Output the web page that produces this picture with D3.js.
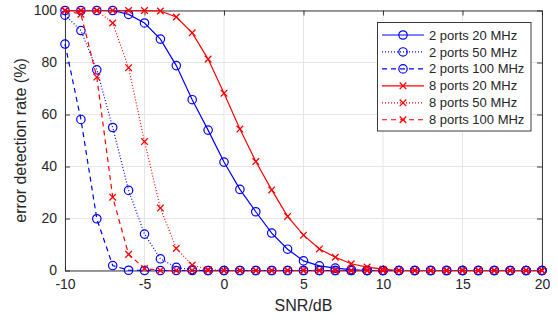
<!DOCTYPE html>
<html><head><meta charset="utf-8">
<script src="https://cdn.jsdelivr.net/npm/d3@7"></script>
<style>body{margin:0;background:#fff}svg{display:block}text{font-family:"Liberation Sans",Arial,Helvetica,sans-serif;fill:#262626}</style>
</head><body><svg id="c" width="558" height="322"></svg>
<script>
const snr = d3.range(-10, 21);
const p2_20 = [100,100,100,100,98.5,95.2,89,78.8,65.7,54,41.7,31.2,22.6,14.4,8.2,3.7,1.8,0.9,0.3,0,0,0,0,0,0,0,0,0,0,0,0];
const p2_50 = [98.2,92.3,77.2,55,30.8,14,4.5,1.2,0.3,0,0,0,0,0,0,0,0,0,0,0,0,0,0,0,0,0,0,0,0,0,0];
const p2_100 = [87.1,58.1,19.9,1.9,0.1,0,0,0,0,0,0,0,0,0,0,0,0,0,0,0,0,0,0,0,0,0,0,0,0,0,0];
const p8_20 = [100,100,100,100,100,100,99.8,97.5,91.4,81.3,68.2,54.4,41.9,31,20.8,13.6,8.3,5.1,2.6,1.3,0.5,0,0,0,0,0,0,0,0,0,0];
const p8_50 = [100,100,100,95.2,78,49.6,24,8.5,2.1,0.4,0,0,0,0,0,0,0,0,0,0,0,0,0,0,0,0,0,0,0,0,0];
const p8_100 = [100,98.6,74.4,28.2,6.2,0.8,0,0,0,0,0,0,0,0,0,0,0,0,0,0,0,0,0,0,0,0,0,0,0,0,0];
const seriesNames = ["2 ports 20 MHz","2 ports 50 MHz","2 ports 100 MHz","8 ports 20 MHz","8 ports 50 MHz","8 ports 100 MHz"];
const xTicks = [-10,-5,0,5,10,15,20];
const yTicks = [0,20,40,60,80,100];

const series = [
  {name:seriesNames[0], v:p2_20, color:"#0000ff", dash:null, marker:"o"},
  {name:seriesNames[1], v:p2_50, color:"#0000ff", dash:"1,2", marker:"o"},
  {name:seriesNames[2], v:p2_100, color:"#0000ff", dash:"5,4", marker:"o"},
  {name:seriesNames[3], v:p8_20, color:"#ff0000", dash:null, marker:"x"},
  {name:seriesNames[4], v:p8_50, color:"#ff0000", dash:"1,2", marker:"x"},
  {name:seriesNames[5], v:p8_100, color:"#ff0000", dash:"5,4", marker:"x"}
];

const L=65, R=542, T=10.5, B=270.5;
const svg = d3.select("#c");
const x = d3.scaleLinear().domain([-10,20]).range([L,R]);
const y = d3.scaleLinear().domain([0,100]).range([B,T]);

// grid
const g = svg.append("g");
g.selectAll(".gx").data(xTicks).join("line").attr("x1",d=>x(d)).attr("x2",d=>x(d)).attr("y1",T).attr("y2",B).attr("stroke","#e5e5e5").attr("stroke-width",1);
g.selectAll(".gy").data(yTicks).join("line").attr("y1",d=>y(d)).attr("y2",d=>y(d)).attr("x1",L).attr("x2",R).attr("stroke","#e5e5e5").attr("stroke-width",1);

// axes
const ax = d3.axisBottom(x).tickValues(xTicks).tickSizeInner(-5).tickSizeOuter(0).tickPadding(9).tickFormat(d=>d);
const ay = d3.axisLeft(y).tickValues(yTicks).tickSizeInner(-5).tickSizeOuter(0).tickPadding(8);
const axT = d3.axisTop(x).tickValues(xTicks).tickSizeInner(-5).tickSizeOuter(0).tickFormat("");
const ayR = d3.axisRight(y).tickValues(yTicks).tickSizeInner(-5).tickSizeOuter(0).tickFormat("");
function style(sel){sel.selectAll("path,line").attr("stroke","#262626").attr("stroke-width",0.9);sel.selectAll("text").attr("font-size","14px").attr("fill","#262626").attr("font-family",'"Liberation Sans",Arial,sans-serif');}
svg.append("g").attr("transform",`translate(0,${B})`).call(ax).call(style);
svg.append("g").attr("transform",`translate(${L},0)`).call(ay).call(style);
svg.append("g").attr("transform",`translate(0,${T})`).call(axT).call(style);
svg.append("g").attr("transform",`translate(${R},0)`).call(ayR).call(style);

// series
const line = d3.line().x((d,i)=>x(snr[i])).y(d=>y(d));
function drawMarker(sel, cx, cy, s){
  if(s.marker==="o"){
    sel.append("circle").attr("cx",cx).attr("cy",cy).attr("r",4.2).attr("fill","none").attr("stroke",s.color).attr("stroke-width",1.2);
  } else {
    const k=3.3;
    sel.append("path").attr("d",`M${cx-k},${cy-k}L${cx+k},${cy+k}M${cx-k},${cy+k}L${cx+k},${cy-k}`).attr("stroke",s.color).attr("stroke-width",1.3).attr("fill","none");
  }
}
series.forEach(s=>{
  const gs = svg.append("g");
  gs.append("path").datum(s.v).attr("d",line).attr("fill","none").attr("stroke",s.color).attr("stroke-width",1.2).attr("stroke-dasharray",s.dash);
  s.v.forEach((v,i)=>drawMarker(gs, x(snr[i]), y(v), s));
});

// labels
svg.append("text").attr("x",(L+R)/2).attr("y",311).attr("text-anchor","middle").attr("font-size","16px").text("SNR/dB");
svg.append("text").attr("transform",`translate(26,${(T+B)/2}) rotate(-90)`).attr("text-anchor","middle").attr("font-size","16px").text("error detection rate (%)");

// legend
const lg = svg.append("g");
lg.append("rect").attr("x",377.5).attr("y",22.5).attr("width",153.5).attr("height",108.5).attr("fill","#fff").attr("stroke","#262626").attr("stroke-width",0.9);
series.forEach((s,i)=>{
  const yy = 35 + i*16.95;
  lg.append("line").attr("x1",382).attr("x2",424).attr("y1",yy).attr("y2",yy).attr("stroke",s.color).attr("stroke-width",1.2).attr("stroke-dasharray",s.dash);
  drawMarker(lg, 403, yy, s);
  lg.append("text").attr("x",429).attr("y",yy).attr("dy","0.35em").attr("font-size","13px").text(s.name);
});
</script></body></html>
